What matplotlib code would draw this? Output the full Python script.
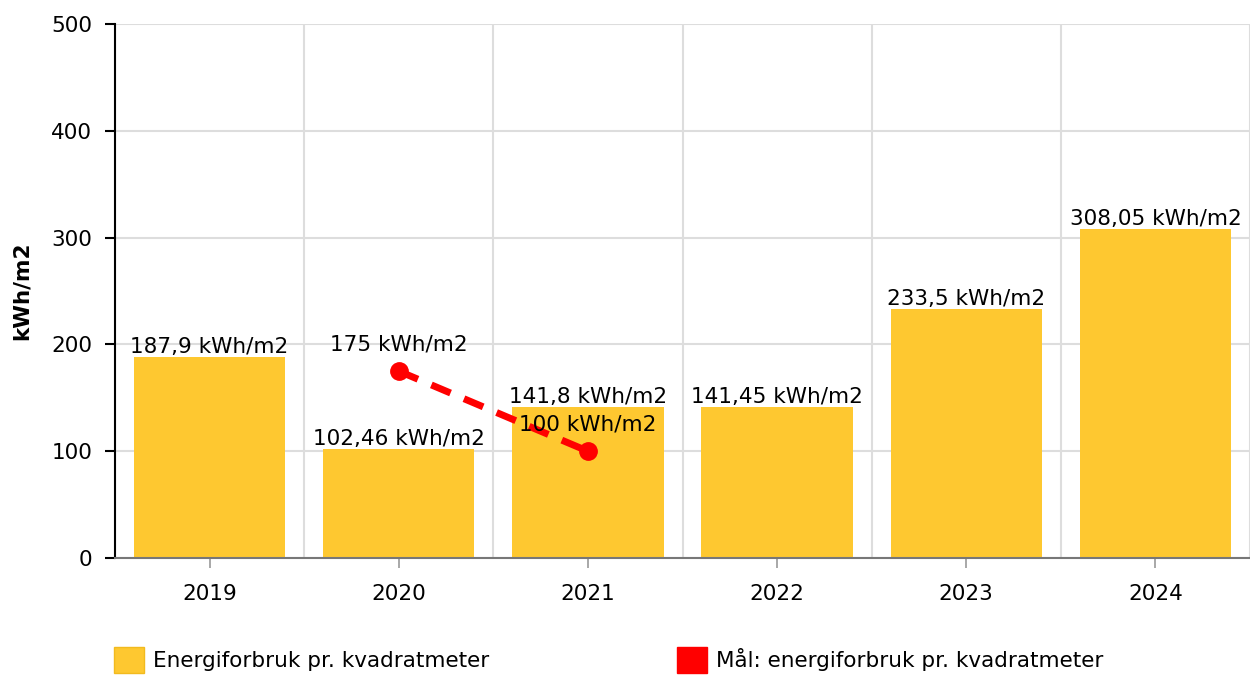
import matplotlib
matplotlib.use("Agg")
import matplotlib.pyplot as plt
from matplotlib.patches import Patch
import numpy as np

years = ["2019", "2020", "2021", "2022", "2023", "2024"]
energy = [187.9, 102.46, 141.8, 141.45, 233.5, 308.05]
energy_labels = ["187,9 kWh/m2", "102,46 kWh/m2", "141,8 kWh/m2",
                 "141,45 kWh/m2", "233,5 kWh/m2", "308,05 kWh/m2"]
goal_years = ["2020", "2021"]
goal = [175, 100]
goal_labels = ["175 kWh/m2", "100 kWh/m2"]
y_ticks = [0, 100, 200, 300, 400, 500]

bar_color = "#FEC830"
red = "#FF0000"
fs = 15.5

plt.rcParams['font.family'] = ['DejaVu Sans']
fig = plt.figure(figsize=(12.5, 6.75), dpi=100)
ax = fig.add_axes([115/1250, 1-558/675, (1250-115)/1250, (558-24)/675])

x = np.arange(len(years))
ax.bar(x, energy, width=0.8, color=bar_color, zorder=2)
for xi, v, lab in zip(x, energy, energy_labels):
    ax.annotate(lab, (xi, v), xytext=(0, 0), textcoords="offset points",
                ha="center", va="bottom", fontsize=fs, zorder=5)

gx = [years.index(g) for g in goal_years]
ax.plot(gx, goal, color=red, lw=5, dashes=(3.0, 2.1), marker="o",
        markersize=12.5, zorder=3, solid_capstyle="butt", dash_capstyle="butt")
for xi, v, lab in zip(gx, goal, goal_labels):
    ax.annotate(lab, (xi, v), xytext=(0, 12), textcoords="offset points",
                ha="center", va="bottom", fontsize=fs, zorder=6)

ax.set_xlim(-0.5, len(years) - 0.5)
ax.set_ylim(0, 500)
ax.set_yticks(y_ticks)
ax.set_yticklabels([str(t) for t in y_ticks], fontsize=fs)
ax.set_xticks(x)
ax.set_xticklabels(years, fontsize=fs)
ax.set_xticks(np.arange(len(years) + 1) - 0.5, minor=True)
ax.tick_params(axis="x", which="major", length=7, width=1.2, color="#999999", pad=12)
ax.tick_params(axis="x", which="minor", length=0)
ax.tick_params(axis="y", length=7, width=1.5, color="black", pad=9.5)
ax.grid(axis="y", which="major", color="#DDDDDD", lw=1.5, zorder=0)
ax.grid(axis="x", which="minor", color="#DDDDDD", lw=1.5, zorder=0)
ax.set_axisbelow(True)
for s in ["top", "right"]:
    ax.spines[s].set_visible(False)
ax.spines["left"].set_color("black")
ax.spines["left"].set_linewidth(1.5)
ax.spines["bottom"].set_color("#777777")
ax.spines["bottom"].set_linewidth(1.5)

fig.text(22/1250, 1-291/675, "kWh/m2", rotation=90, ha="center", va="center",
         fontsize=fs, fontweight="bold")

handles = [Patch(facecolor=bar_color, edgecolor="#F2BA1E", lw=1),
           Patch(facecolor=red, edgecolor=red, lw=1)]
labels = ["Energiforbruk pr. kvadratmeter", "Mål: energiforbruk pr. kvadratmeter"]
fig.legend(handles, labels, loc="lower left", bbox_to_anchor=(112/1250, 0.0),
           ncol=2, frameon=False, fontsize=fs, borderpad=0.1,
           handlelength=1.4, handleheight=1.5, handletextpad=0.42,
           columnspacing=8.7, borderaxespad=0)

fig.savefig("out.png", dpi=100)
